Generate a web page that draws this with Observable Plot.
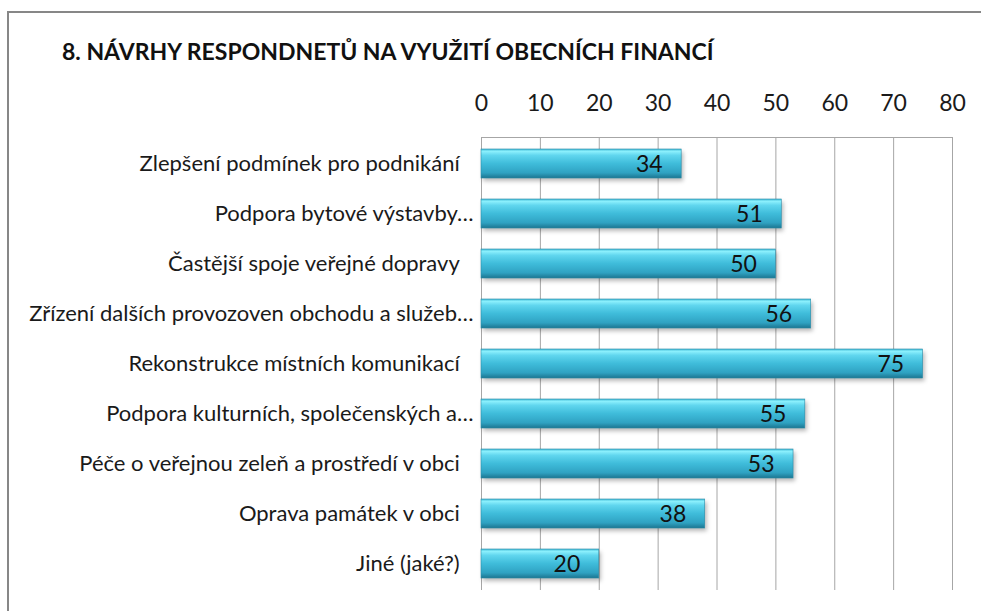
<!DOCTYPE html>
<html>
<head>
<meta charset="utf-8">
<script src="https://cdn.jsdelivr.net/npm/d3@7"></script>
<script src="https://cdn.jsdelivr.net/npm/@observablehq/plot@0.6"></script>
<style>
  html, body { margin: 0; padding: 0; background: #fff; }
  body { width: 981px; height: 611px; position: relative; overflow: hidden; font-family: Lato, "Open Sans", sans-serif; }
  #frame { position: absolute; left: 7px; top: 11px; right: -10px; bottom: -10px; border-left: 2px solid #878787; border-top: 2px solid #878787; }
  #title { position: absolute; left: 62px; top: 36px; font-weight: bold; font-size: 23px; line-height: 30px; color: #111; white-space: nowrap; }
  #chart { position: absolute; left: 0; top: 75px; }
  #chart svg { display: block; }
</style>
</head>
<body>
<div id="frame"></div>
<div id="title">8. NÁVRHY RESPONDNETŮ NA VYUŽITÍ OBECNÍCH FINANCÍ</div>
<div id="chart"></div>
<script>
const categories = [
  "Zlepšení podmínek pro podnikání",
  "Podpora bytové výstavby…",
  "Častější spoje veřejné dopravy",
  "Zřízení dalších provozoven obchodu a služeb…",
  "Rekonstrukce místních komunikací",
  "Podpora kulturních, společenských a…",
  "Péče o veřejnou zeleň a prostředí v obci",
  "Oprava památek v obci",
  "Jiné (jaké?)"
];
const values = [34, 51, 50, 56, 75, 55, 53, 38, 20];
const xTicks = [0, 10, 20, 30, 40, 50, 60, 70, 80];

const data = categories.map((c, i) => ({cat: c, value: values[i]}));

const plot = Plot.plot({
  width: 981,
  height: 536,
  marginTop: 62,
  marginLeft: 481,
  marginRight: 29,
  marginBottom: 21,
  style: {fontFamily: "Lato, 'Open Sans', sans-serif", color: "#1a1a1a", background: "transparent"},
  x: {domain: [0, 80], label: null},
  y: {domain: categories, paddingInner: 0.42, paddingOuter: 0.21, label: null},
  marks: [
    Plot.gridX(xTicks, {stroke: "#a6a6a6", strokeOpacity: 1, strokeWidth: 1}),
    Plot.frame({anchor: "top", stroke: "#a6a6a6", strokeWidth: 1}),
    Plot.barX(data, {x: "value", y: "cat", fill: "#000", fillOpacity: 0.28, dx: 2, dy: 3}),
    Plot.barX(data, {x: "value", y: "cat", fill: "url(#barGrad)", stroke: "#2a8da8", strokeWidth: 0.6}),
    Plot.text(data, {x: "value", y: "cat", text: d => String(d.value), textAnchor: "end", dx: -19, dy: 1, fontSize: 23, fill: "#111"}),
    Plot.axisX(xTicks, {anchor: "top", tickSize: 0, tickPadding: 27, fontSize: 23, fill: "#1a1a1a", label: null}),
    Plot.axisY({anchor: "left", tickSize: 0, tickPadding: 8, fontSize: 22, fill: "#1a1a1a", label: null,
      tickFormat: d => d.endsWith("…") ? d : d + "\u2002\u2009"})
  ]
});

const svg = d3.select(plot);
const defs = svg.insert("defs", ":first-child");
const g = defs.append("linearGradient").attr("id", "barGrad").attr("x1", 0).attr("y1", 0).attr("x2", 0).attr("y2", 1);
[
  [0, "#3fb8d4"], [0.08, "#8cf0fd"], [0.22, "#60d6ee"], [0.5, "#3fbcda"], [0.82, "#2fa2c2"], [1, "#1c7590"]
].forEach(([o, c]) => g.append("stop").attr("offset", o).attr("stop-color", c));
const f = defs.append("filter").attr("id", "blurShadow").attr("x", "-10%").attr("y", "-50%").attr("width", "120%").attr("height", "200%");
f.append("feGaussianBlur").attr("stdDeviation", 2);
const bars = plot.querySelectorAll("g[aria-label='bar']");
if (bars[0]) bars[0].setAttribute("filter", "url(#blurShadow)");

document.getElementById("chart").appendChild(plot);
</script>
</body>
</html>
